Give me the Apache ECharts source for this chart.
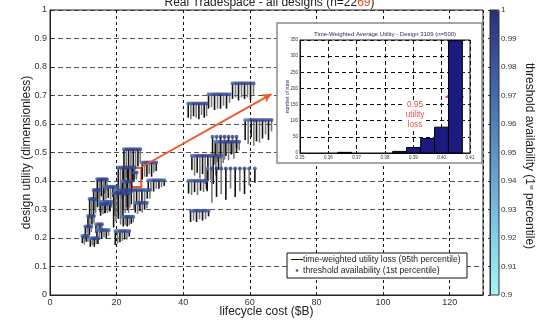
<!DOCTYPE html>
<html><head><meta charset="utf-8">
<script src="https://cdn.jsdelivr.net/npm/echarts@6/dist/echarts.min.js"></script>
<style>html,body{margin:0;padding:0;background:#fff}#c{width:539px;height:323px}</style>
</head><body><div id="c"></div>
<script>
// ---- main tradespace data: one row of designs per cluster ----
var clusterUtility = [0.672,0.704,0.743,0.614,0.555,0.538,0.489,0.444,0.401,0.296,
  0.511,0.447,0.465,0.403,0.398,0.43,0.368,0.357,0.324,0.275,0.225,
  0.406,0.38,0.368,0.337,0.327,0.318,0.277,0.248,0.24,0.228,0.207,0.199];
var clusterCosts = [
  [41.5,42.3,43.1,43.9,44.7,45.5,46.3,47.0],
  [47.6,48.5,49.4,50.3,51.2,52.1,53.0,53.9],
  [54.8,55.7,56.6,57.5,58.4,59.3,60.2,61.1],
  [58.6,59.5,60.4,61.2,62.0,62.9,63.8,64.7,65.6,66.5],
  [48.8,50.0,51.2,52.4,53.6,54.8,56.0],
  [49.6,50.4,51.2,52.0,52.8,53.6,54.4,55.2,56.0,56.8],
  [42.6,43.4,44.2,45.0,45.8,46.6,47.4,48.2,49.0,49.8,50.6,51.4],
  [47.2,48.6,50.0,51.4,52.8,54.2,55.6,57.0,58.4,59.8,61.5],
  [41.6,42.5,43.4,44.3,45.2,46.1,47.0],
  [42.2,43.1,44.0,44.9,45.8,46.7,47.6],
  [22.2,22.9,23.6,24.3,25.0,25.7,26.4,27.1],
  [20.5,21.2,21.9,22.6,23.3,24.0,24.7,25.4],
  [27.7,28.4,29.1,29.8,30.5,31.2,31.9],
  [29.5,30.3,31.1,31.9,32.7,33.5,34.3],
  [21.7,22.4,23.1,23.8,24.5],
  [25.2,26.0],
  [19.6,20.4,21.2,22.0,22.8,23.6,24.4,25.2,26.0,26.8,27.6,28.4,29.2,30.0],
  [19.1,19.8,20.5,21.2,21.9,22.6,23.3,24.0],
  [25.6,26.3,27.0,27.7,28.4,29.1],
  [22.0,22.6,23.2,23.8,24.4,25.0],
  [19.6,20.3,21.0,21.7,22.4,23.1,23.8],
  [14.2,14.8,15.4,16.0,16.6,17.1],
  [16.1,16.8,17.5,18.2,18.9,19.6,20.3],
  [13.1,13.7,14.3,14.9],
  [11.9,12.5,13.1,13.7],
  [15.1,15.8,16.5,17.2,17.9,18.5],
  [15.2,15.9,16.6,17.3,18.0],
  [11.4,12.0,12.6,13.2],
  [13.8,14.4,15.0,15.6],
  [10.6,11.2,11.8,12.4],
  [14.1,14.8,15.5,16.2,16.9,17.6],
  [9.7,10.3,10.9,11.4],
  [12.1,12.7,13.3,13.9,14.4]
];
var clusterLoss = [
  [0.05,0.055,0.045,0.05,0.055,0.04,0.05,0.045],
  [0.05,0.045,0.055,0.05,0.05,0.04,0.05,0.03],
  [0.055,0.05,0.06,0.05,0.055,0.05,0.06,0.04],
  [0.07,0.085,0.06,0.09,0.075,0.08,0.065,0.05,0.07,0.04],
  [0.06,0.09,0.07,0.08,0.05,0.06,0.04],
  [0.08,0.07,0.06,0.075,0.05,0.065,0.045,0.06,0.04,0.03],
  [0.05,0.07,0.06,0.08,0.065,0.1,0.09,0.085,0.1,0.07,0.05,0.04],
  [0.08,0.12,0.1,0.09,0.11,0.07,0.1,0.08,0.09,0.06,0.05],
  [0.045,0.05,0.04,0.05,0.035,0.04,0.03],
  [0.04,0.035,0.04,0.03,0.035,0.03,0.02],
  [0.12,0.1,0.11,0.09,0.08,0.07,0.06,0.05],
  [0.1,0.09,0.08,0.1,0.07,0.06,0.05,0.04],
  [0.06,0.05,0.05,0.04,0.05,0.035,0.03],
  [0.04,0.035,0.04,0.03,0.03,0.025,0.02],
  [0.06,0.05,0.05,0.04,0.04],
  [0.03,0.025],
  [0.09,0.08,0.1,0.07,0.06,0.08,0.05,0.07,0.05,0.06,0.04,0.05,0.03,0.03],
  [0.12,0.1,0.09,0.11,0.08,0.07,0.06,0.05],
  [0.035,0.04,0.03,0.035,0.025,0.02],
  [0.035,0.03,0.035,0.03,0.025,0.02],
  [0.05,0.045,0.04,0.035,0.03,0.03,0.02],
  [0.08,0.07,0.06,0.07,0.05,0.04],
  [0.05,0.045,0.04,0.045,0.035,0.04,0.03],
  [0.07,0.06,0.06,0.05],
  [0.07,0.06,0.06,0.05],
  [0.035,0.03,0.04,0.03,0.025,0.02],
  [0.04,0.035,0.03,0.03,0.025],
  [0.04,0.035,0.03,0.025],
  [0.03,0.025,0.03,0.02],
  [0.03,0.025,0.03,0.02],
  [0.03,0.035,0.03,0.025,0.03,0.02],
  [0.025,0.03,0.02,0.02],
  [0.03,0.025,0.03,0.02,0.02]
];
var clusterAvail = [
  [0.97,0.98,0.99,0.99,0.99,0.99,0.99,0.985],
  [0.97,0.98,0.99,0.995,0.995,0.99,0.99,0.98],
  [0.97,0.99,0.99,0.995,0.995,0.99,0.99,0.985],
  [0.96,0.97,0.99,0.995,0.995,0.99,0.995,0.99,0.99,0.985],
  [0.98,0.99,0.995,0.995,0.99,0.99,0.985],
  [0.96,0.97,0.99,0.99,0.995,0.995,0.99,0.99,0.99,0.985],
  [0.97,0.98,0.99,0.99,0.995,0.995,0.99,0.99,0.995,0.99,0.985,0.98],
  [0.96,0.99,0.995,0.995,0.99,0.995,0.99,0.99,0.99,0.985,0.98],
  [0.97,0.98,0.99,0.99,0.99,0.985,0.98],
  [0.97,0.98,0.99,0.99,0.99,0.985,0.98],
  [0.97,0.99,0.99,0.995,0.995,0.99,0.99,0.985],
  [0.97,0.98,0.99,0.995,0.99,0.99,0.99,0.985],
  [0.96,0.98,0.99,0.99,0.99,0.985,0.98],
  [0.96,0.97,0.99,0.99,0.99,0.985,0.98],
  [0.96,0.98,0.99,0.99,0.985],
  [0.98,0.99],
  [0.96,0.97,0.98,0.99,0.99,0.995,0.99,0.99,0.995,0.99,0.99,0.985,0.98,0.98],
  [0.97,0.99,0.99,0.995,0.99,0.99,0.99,0.985],
  [0.96,0.98,0.99,0.99,0.985,0.98],
  [0.97,0.98,0.99,0.99,0.985,0.98],
  [0.96,0.97,0.98,0.99,0.99,0.985,0.98],
  [0.98,0.99,0.995,0.995,0.99,0.985],
  [0.96,0.97,0.98,0.99,0.99,0.985,0.98],
  [0.98,0.99,0.99,0.985],
  [0.98,0.99,0.99,0.985],
  [0.96,0.97,0.98,0.99,0.985,0.98],
  [0.98,0.99,0.99,0.99,0.985],
  [0.97,0.99,0.99,0.985],
  [0.96,0.98,0.99,0.985],
  [0.97,0.99,0.99,0.985],
  [0.96,0.97,0.98,0.99,0.985,0.98],
  [0.97,0.99,0.99,0.985],
  [0.96,0.98,0.99,0.99,0.985]
];
// highlighted design 3109 and arrow (data coords)
var boxCorners = [[24.4, 0.446], [27.4, 0.379]];
var arrowFrom = [27.6, 0.45];
var arrowTo = [66.5, 0.705];

// ---- inset histogram: Time-weighted average utility, design 3109 ----
var binStarts = [0.3633, 0.3827, 0.3876, 0.3926, 0.3975, 0.4024];
var binWidth = 0.0049;
var binCounts = [2, 5, 17, 45, 80, 348];
var insetArrowFrom = [0.4078, 175];
var insetArrowTo = [0.4013, 175];

// ---- build series data ----
var pts = [];
for (var i = 0; i < clusterUtility.length; i++) {
  for (var j = 0; j < clusterCosts[i].length; j++) {
    pts.push([clusterCosts[i][j], clusterUtility[i], clusterLoss[i][j], clusterAvail[i][j], j]);
  }
}
var dots = pts.map(function (p) { return [p[0], p[1], p[3]]; });
var bins = binStarts.map(function (s, k) { return [s, binCounts[k], s + binWidth]; });

var FONT = "'Liberation Sans', Arial, sans-serif";
function txt(x, y, text, size, color, extra) {
  var st = {x: x, y: y, text: text, fontSize: size, fontFamily: FONT, fill: color,
    textAlign: 'left', textVerticalAlign: 'middle'};
  for (var k in extra) st[k] = extra[k];
  return st;
}
var chart = echarts.init(document.getElementById('c'), null, {renderer: 'canvas'});
chart.setOption({
  animation: false,
  backgroundColor: '#fff',
  textStyle: {fontFamily: FONT},
  title: {
    text: 'Real Tradespace - all designs (n=22{r|69})',
    left: 'center', top: -8,
    textStyle: {fontSize: 12, fontWeight: 'normal', color: '#222', fontFamily: FONT,
      rich: {r: {color: '#e8502a', fontSize: 12, fontFamily: FONT}}}
  },
  grid: [
    {left: 50, top: 10, width: 433, height: 285, show: true, borderColor: '#222', borderWidth: 1, z: 1},
    {left: 490, top: 10, width: 9, height: 285, show: true, borderColor: '#333', borderWidth: 1, backgroundColor: 'transparent', z: 5},
    {left: 300, top: 40, width: 170, height: 113, show: true, borderColor: '#111', borderWidth: 1, z: 6}
  ],
  xAxis: [
    {gridIndex: 0, type: 'value', min: 0, max: 130, interval: 20,
      name: 'lifecycle cost ($B)', nameLocation: 'middle', nameGap: 11, nameMoveOverlap: false,
      nameTextStyle: {fontSize: 12, color: '#222', fontFamily: FONT},
      axisLine: {show: true, lineStyle: {color: '#222'}},
      axisTick: {inside: true, length: 3, lineStyle: {color: '#222'}},
      axisLabel: {fontSize: 9, color: '#333', margin: 3, fontFamily: FONT, showMaxLabel: false},
      splitLine: {show: true, lineStyle: {color: '#111', type: [3, 3], width: 1}}},
    {gridIndex: 1, type: 'value', show: false, min: 0, max: 1},
    {gridIndex: 2, type: 'value', min: 0.35, max: 0.41, interval: 0.01, z: 6,
      axisLine: {show: true, lineStyle: {color: '#111'}},
      axisTick: {inside: true, length: 2, lineStyle: {color: '#111'}},
      axisLabel: {fontSize: 4.5, color: '#333', margin: 2, formatter: function (v) { return v.toFixed(2); }},
      splitLine: {show: true, lineStyle: {color: '#111', type: [4, 3], width: 1}}}
  ],
  yAxis: [
    {gridIndex: 0, type: 'value', min: 0, max: 1, interval: 0.1,
      name: 'design utility (dimensionless)', nameLocation: 'middle', nameGap: 17, nameMoveOverlap: false,
      nameTextStyle: {fontSize: 12, color: '#222', fontFamily: FONT},
      axisLine: {show: true, lineStyle: {color: '#222'}},
      axisTick: {inside: true, length: 3, lineStyle: {color: '#222'}},
      axisLabel: {fontSize: 9, color: '#333', margin: 3, fontFamily: FONT,
        formatter: function (v) { return String(+v.toFixed(1)); }},
      splitLine: {show: true, lineStyle: {color: '#555', type: [5, 3], width: 1}}},
    {gridIndex: 1, type: 'value', min: 0.9, max: 1, interval: 0.01, position: 'right', z: 5,
      axisLine: {show: true, lineStyle: {color: '#333'}},
      axisTick: {show: true, inside: true, length: 2, lineStyle: {color: '#333'}},
      axisLabel: {fontSize: 8, color: '#333', margin: 2, fontFamily: FONT,
        formatter: function (v) { return String(+v.toFixed(2)); }},
      splitLine: {show: false}},
    {gridIndex: 2, type: 'value', min: 0, max: 350, interval: 50, z: 6,
      name: 'number of runs', nameLocation: 'middle', nameGap: 10, nameMoveOverlap: false,
      nameTextStyle: {fontSize: 5, color: '#3a2a6a'},
      axisLine: {show: true, lineStyle: {color: '#111'}},
      axisTick: {inside: true, length: 2, lineStyle: {color: '#111'}},
      axisLabel: {fontSize: 4.5, color: '#333', margin: 2},
      splitLine: {show: true, lineStyle: {color: '#111', type: [4, 3], width: 1}}}
  ],
  visualMap: {
    type: 'continuous', min: 0.9, max: 1, dimension: 2, seriesIndex: 1,
    orient: 'vertical', left: 490, top: 10, itemWidth: 9, itemHeight: 285,
    padding: 0, text: ['', ''], calculable: false, hoverLink: false, realtime: false,
    inRange: {color: ['#a3f7f7', '#7cc6e2', '#5b93c8', '#3f62a6', '#2a2d85']},
    textStyle: {fontSize: 1, color: 'transparent'}
  },
  graphic: [
    {type: 'rect', z: 4, shape: {x: 277, y: 23, width: 205, height: 140},
      style: {fill: '#fff', stroke: '#8a8a8a', lineWidth: 1.5}},
    {type: 'text', z: 20, style: txt(385, 34, 'Time-Weighted Average Utility - Design 3109 (n=500)', 6, '#2a1f5a', {textAlign: 'center'})},
    {type: 'text', z: 20, style: txt(415, 115, '0.95\nutility\nloss', 8.2, '#e8504a',
      {textAlign: 'center', lineHeight: 10, backgroundColor: '#fff', padding: [0, 1]})},
    {type: 'rect', z: 8, shape: {x: 287, y: 253, width: 180, height: 25},
      style: {fill: '#fff', stroke: '#111', lineWidth: 1}},
    {type: 'line', z: 9, shape: {x1: 291, y1: 259.5, x2: 303, y2: 259.5}, style: {stroke: '#111', lineWidth: 1}},
    {type: 'text', z: 9, style: txt(303, 259.5, 'time-weighted utility loss (95th percentile)', 8.6, '#222')},
    {type: 'circle', z: 9, shape: {cx: 297, cy: 270.5, r: 1.3}, style: {fill: '#3f52a8'}},
    {type: 'text', z: 9, style: txt(303, 270.5, 'threshold availability (1st percentile)', 8.6, '#222')},
    {type: 'text', z: 9, x: 529, y: 156, rotation: -Math.PI / 2,
      style: txt(0, 0, 'threshold availability (1{s|st} percentile)', 12, '#222',
        {textAlign: 'center', rich: {s: {fontSize: 6, verticalAlign: 'top', fontFamily: FONT}}})}
  ],
  series: [
    {type: 'custom', xAxisIndex: 0, yAxisIndex: 0, z: 2, silent: true,
      data: pts, encode: {x: 0, y: 1},
      renderItem: function (params, api) {
        var x = api.value(0), u = api.value(1), l = api.value(2), k = api.value(4);
        var p1 = api.coord([x, u]), p2 = api.coord([x, u - l]);
        return {type: 'line', shape: {x1: p1[0], y1: p1[1], x2: p2[0], y2: p2[1]},
          style: {stroke: k % 2 ? '#7a7a7a' : '#111', lineWidth: 1.6}};
      }},
    {type: 'scatter', xAxisIndex: 0, yAxisIndex: 0, z: 3, silent: true,
      symbol: 'circle', symbolSize: 4, data: dots},
    {type: 'line', xAxisIndex: 0, yAxisIndex: 0, z: 3, silent: true, data: [],
      markLine: {silent: true, symbol: ['none', 'arrow'], symbolSize: [7, 9], label: {show: false},
        lineStyle: {color: '#f05a28', width: 2, type: 'solid'},
        data: [[{coord: arrowFrom}, {coord: arrowTo}]]},
      markArea: {silent: true, label: {show: false},
        itemStyle: {color: 'rgba(0,0,0,0)', borderColor: '#f05a28', borderWidth: 2},
        data: [[{coord: boxCorners[0]}, {coord: boxCorners[1]}]]}},
    {type: 'custom', xAxisIndex: 2, yAxisIndex: 2, z: 7, silent: true,
      data: bins, encode: {x: [0, 2], y: 1},
      renderItem: function (params, api) {
        var a = api.coord([api.value(0), api.value(1)]);
        var b = api.coord([api.value(2), 0]);
        return {type: 'rect', shape: {x: a[0], y: a[1], width: b[0] - a[0], height: b[1] - a[1]},
          style: {fill: '#1c1a80', stroke: '#000', lineWidth: 1}};
      },
      markLine: {silent: true, symbol: ['none', 'arrow'], symbolSize: [5, 6], label: {show: false},
        lineStyle: {color: '#e8504a', width: 1.5, type: 'solid'},
        data: [[{coord: insetArrowFrom}, {coord: insetArrowTo}]]}}
  ]
});
</script></body></html>
